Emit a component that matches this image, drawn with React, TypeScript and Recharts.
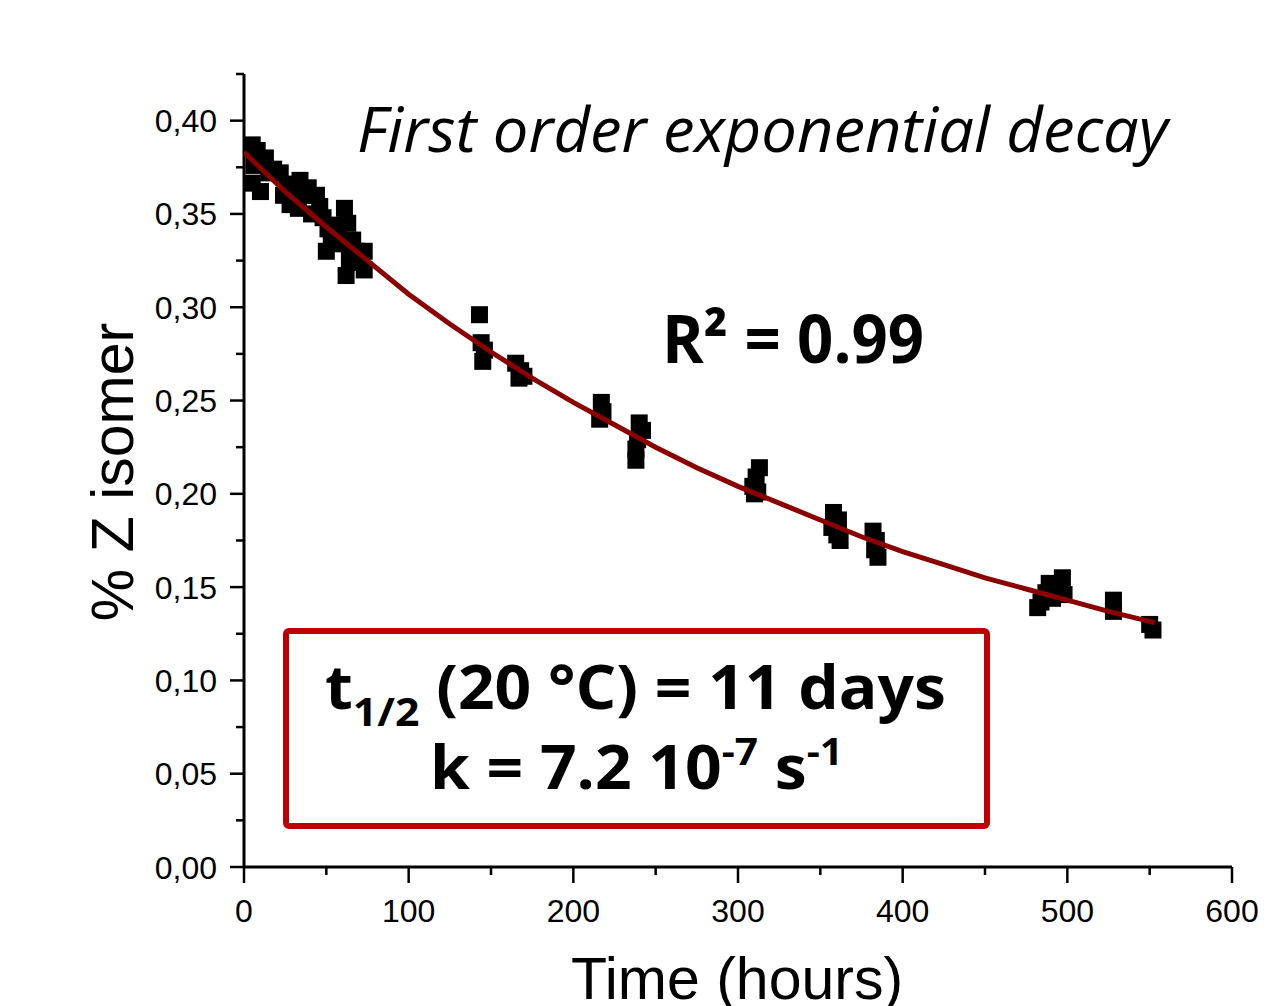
import React from 'react';
import { ComposedChart, Scatter, XAxis, YAxis, Customized } from 'recharts';

const timeHours = [
  5, 5, 6, 8, 10, 13, 15, 18, 22, 24, 26, 28, 30, 33, 34, 37, 39, 41, 44, 46, 48, 50, 51, 53, 55, 57, 59, 61, 62, 63, 64, 66, 68, 70, 73, 73,
  143, 144, 146, 145,
  165, 168, 167, 170,
  217, 218, 216,
  240, 242, 239, 238, 238,
  313, 311, 309, 310, 312,
  358, 361, 357, 360, 362,
  382, 384, 383, 385,
  482, 484, 487, 489, 491, 494, 497, 498,
  528, 528,
  550, 552,
];
const zIsomer = [
  0.387, 0.3665, 0.376, 0.384, 0.362, 0.380, 0.372, 0.374, 0.372, 0.360, 0.366, 0.355, 0.362, 0.353, 0.368, 0.360, 0.364, 0.350, 0.360, 0.354, 0.348, 0.330, 0.342, 0.336, 0.344, 0.340, 0.334, 0.353, 0.317, 0.345, 0.326, 0.336, 0.330, 0.324, 0.330, 0.320,
  0.296, 0.281, 0.277, 0.271,
  0.270, 0.266, 0.262, 0.263,
  0.249, 0.244, 0.240,
  0.238, 0.234, 0.229, 0.224, 0.218,
  0.214, 0.209, 0.204, 0.200, 0.201,
  0.190, 0.186, 0.182, 0.178, 0.175,
  0.180, 0.175, 0.170, 0.166,
  0.139, 0.142, 0.147, 0.152, 0.144, 0.149, 0.155, 0.146,
  0.143, 0.137,
  0.130, 0.127,
];

const fitTimes = [0, 25, 50, 75, 100, 125, 150, 175, 200, 225, 250, 275, 300, 325, 350, 375, 400, 425, 450, 475, 500, 525, 553];
const fitValues = [0.383, 0.362, 0.343, 0.325, 0.307, 0.291, 0.276, 0.262, 0.249, 0.237, 0.225, 0.214, 0.204, 0.195, 0.186, 0.177, 0.169, 0.162, 0.155, 0.149, 0.143, 0.137, 0.131];

const xTicks = [0, 50, 100, 150, 200, 250, 300, 350, 400, 450, 500, 550, 600];
const yTicks = [0, 0.025, 0.05, 0.075, 0.1, 0.125, 0.15, 0.175, 0.2, 0.225, 0.25, 0.275, 0.3, 0.325, 0.35, 0.375, 0.4, 0.425];

const scatterData = timeHours.map((t, i) => ({ t, v: zIsomer[i] }));
const fitData = fitTimes.map((t, i) => ({ t, v: fitValues[i] }));

const FONT = "'Liberation Sans', Arial, sans-serif";
const CAL = "'Open Sans', 'Noto Sans', sans-serif";

const YTick = (props: any) => {
  const { x, y, payload } = props;
  const v = payload.value;
  const major = Math.round(v * 1000) % 50 === 0;
  return (
    <g>
      <line x1={x} x2={x - (major ? 14 : 8)} y1={y} y2={y} stroke="#000" strokeWidth={2.5} />
      {major && (
        <text x={x - 27} y={y} dy="0.36em" textAnchor="end" fontSize={32} fontFamily={FONT} fill="#000">
          {v.toFixed(2).replace('.', ',')}
        </text>
      )}
    </g>
  );
};

const XTick = (props: any) => {
  const { x, y, payload } = props;
  const v = payload.value;
  const major = v % 100 === 0;
  return (
    <g>
      <line x1={x} x2={x} y1={y} y2={y + (major ? 16 : 8)} stroke="#000" strokeWidth={2.5} />
      {major && (
        <text x={x} y={y + 55} textAnchor="middle" fontSize={32} fontFamily={FONT} fill="#000">
          {v}
        </text>
      )}
    </g>
  );
};

const Square = (props: any) => {
  const { cx, cy } = props;
  if (cx == null || cy == null) return <g />;
  return <rect x={cx - 8.5} y={cy - 8.5} width={17} height={17} fill="#000" />;
};

const NoDot = () => <g />;

const Annotations = () => (
  <g>
    <text x={112} y={472} transform="rotate(-90 112 472)" textAnchor="middle" dy="0.36em" fontSize={59} fontFamily={FONT} fill="#000">
      % Z isomer
    </text>
    <text x={737} y={999} textAnchor="middle" fontSize={59} fontFamily={FONT} fill="#000">
      Time (hours)
    </text>
    <text x={357} y={152} fontSize={62} fontStyle="italic" fontFamily={CAL} fill="#000" textLength={811} lengthAdjust="spacingAndGlyphs">
      First order exponential decay
    </text>
    <text x={662} y={363} fontSize={66} fontWeight="bold" fontFamily={CAL} fill="#000" textLength={262} lengthAdjust="spacingAndGlyphs">
      R² = 0.99
    </text>
    <rect x={286} y={631} width={701} height={195} rx={3} fill="none" stroke="#C00000" strokeWidth={6} />
    <text x={325} y={709} fontSize={60} fontWeight="bold" fontFamily={CAL} fill="#000" textLength={621} lengthAdjust="spacingAndGlyphs">
      <tspan>t</tspan>
      <tspan fontSize={40} dy={17}>1/2</tspan>
      <tspan dy={-17}> (20 °C) = 11 days</tspan>
    </text>
    <text x={430} y={789} fontSize={60} fontWeight="bold" fontFamily={CAL} fill="#000" textLength={413} lengthAdjust="spacingAndGlyphs">
      <tspan>k = 7.2 10</tspan>
      <tspan fontSize={38} dy={-24}>-7</tspan>
      <tspan dy={24}> s</tspan>
      <tspan fontSize={38} dy={-24}>-1</tspan>
    </text>
  </g>
);

export default function App() {
  return (
    <div style={{ position: 'absolute', left: 0, top: 0, background: '#fff' }}>
      <ComposedChart width={1267} height={1006} margin={{ top: 74, right: 35, bottom: 0, left: 0 }}>
        <XAxis
          type="number"
          dataKey="t"
          domain={[0, 600]}
          ticks={xTicks}
          interval={0}
          tick={<XTick />}
          tickLine={false}
          tickSize={0}
          tickMargin={0}
          height={139}
          axisLine={{ stroke: '#000', strokeWidth: 3 }}
          allowDataOverflow
        />
        <YAxis
          type="number"
          dataKey="v"
          domain={[0, 0.425]}
          ticks={yTicks}
          interval={0}
          tick={<YTick />}
          tickLine={false}
          tickSize={0}
          tickMargin={0}
          width={244}
          axisLine={{ stroke: '#000', strokeWidth: 3 }}
          allowDataOverflow
        />
        <Scatter data={scatterData} dataKey="v" shape={<Square />} isAnimationActive={false} />
        <Scatter
          data={fitData}
          dataKey="v"
          shape={<NoDot />}
          line={{ stroke: '#8B0000', strokeWidth: 5 }}
          lineType="joint"
          isAnimationActive={false}
        />
        <Customized component={Annotations} />
      </ComposedChart>
    </div>
  );
}
